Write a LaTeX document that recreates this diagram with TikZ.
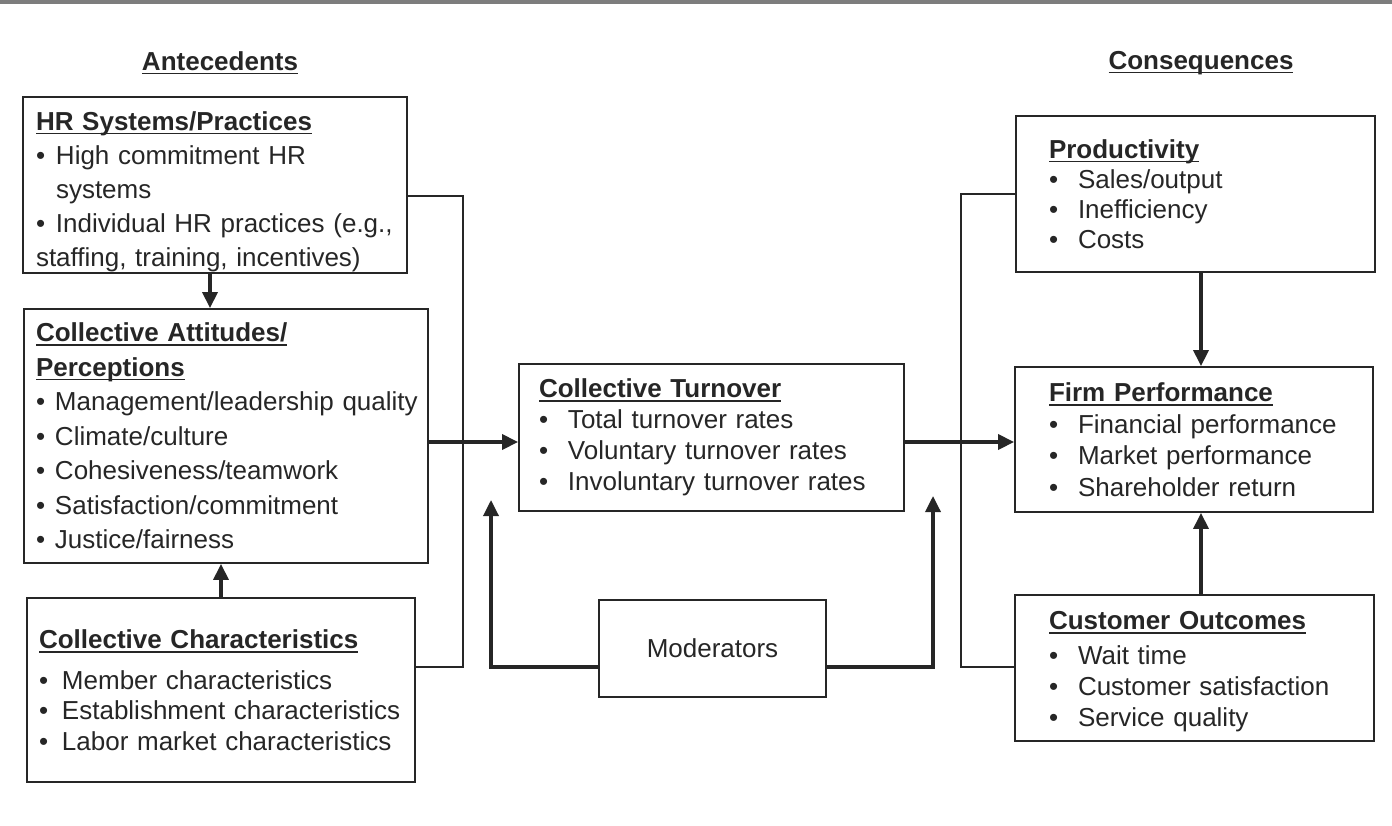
\documentclass[tikz,border=0pt]{standalone}
\usepackage{fontspec}
\setmainfont{Liberation Sans}
\usepackage{tikz}
\usetikzlibrary{arrows.meta, positioning, calc}
\definecolor{inkgray}{RGB}{38, 38, 38}
\definecolor{rulegray}{RGB}{125, 125, 125}
\newsavebox{\headbox}
\newcommand{\boxhead}[1]{\sbox{\headbox}{\textbf{#1}}%
    \mbox{\rlap{\rule[-4pt]{\wd\headbox}{1.6pt}}\usebox{\headbox}}}
\newcommand{\dotline}[2][19pt]{\mbox{\makebox[#1][l]{\textbullet}#2}}

\begin{document}
\begin{tikzpicture}[x=1pt, y=-1pt,
    panel/.style={draw=inkgray, line width=1.8pt, text=inkgray, align=left, inner ysep=0pt},
    arr/.style={draw=inkgray, line width=3.4pt, -{Triangle[length=16pt,width=15pt]}},
    link/.style={draw=inkgray, line width=1.8pt},
    heading/.style={text=inkgray, font=\fontsize{26}{31}\selectfont}]
    \useasboundingbox (0,0) rectangle (1392,825);

    % Rule at the top
    \draw[rulegray, line width=4pt] (0,1.5) -- (1392,1.5);

    % Column headings
    \node[heading] (anteh) at (220,63) {\boxhead{Antecedents}};
    \node[heading] (consh) at (1201,63) {\boxhead{Consequences}};

    % Antecedents
    \node[panel, minimum width=384pt, minimum height=176pt, inner xsep=13pt, text width=358pt,
          font=\fontsize{26}{34}\selectfont] (hr) at (215,185) {%
        \rule{0pt}{32pt}\boxhead{HR Systems/Practices}\\
        \dotline[20pt]{High commitment HR}\\
        \hspace*{20pt}systems\\
        \dotline[20pt]{Individual HR practices (e.g.,}\\
        staffing, training, incentives)};
    \node[panel, minimum width=404pt, minimum height=254pt, inner xsep=12pt, text width=380pt,
          font=\fontsize{26}{34.5}\selectfont] (ca) at (226,436) {%
        \boxhead{Collective Attitudes/}\\
        \boxhead{Perceptions}\\
        \dotline{Management/leadership quality}\\
        \dotline{Climate/culture}\\
        \dotline{Cohesiveness/teamwork}\\
        \dotline{Satisfaction/commitment}\\
        \dotline{Justice/fairness}};
    \node[panel, minimum width=388pt, minimum height=184pt, inner xsep=12pt, text width=364pt,
          font=\fontsize{26}{30.5}\selectfont] (cc) at (221,690) {%
        \boxhead{Collective Characteristics}\\[10pt]
        \dotline[23pt]{Member characteristics}\\
        \dotline[23pt]{Establishment characteristics}\\
        \dotline[23pt]{Labor market characteristics}};

    % Turnover and moderators
    \node[panel, minimum width=385pt, minimum height=147pt, inner xsep=20pt, text width=345pt,
          font=\fontsize{26}{31}\selectfont] (turn) at (711.5,437.5) {%
        \boxhead{Collective Turnover}\\
        \dotline[29pt]{Total turnover rates}\\
        \dotline[29pt]{Voluntary turnover rates}\\
        \dotline[29pt]{Involuntary turnover rates}};
    \node[panel, align=center, minimum width=227pt, minimum height=97pt,
          font=\fontsize{26}{31}\selectfont] (mod) at (712.5,648.5) {Moderators};

    % Consequences
    \node[panel, minimum width=359pt, minimum height=156pt, inner xsep=33pt, text width=293pt,
          font=\fontsize{26}{30}\selectfont] (prod) at (1195.5,194) {%
        \boxhead{Productivity}\\
        \dotline[29pt]{Sales/output}\\
        \dotline[29pt]{Inefficiency}\\
        \dotline[29pt]{Costs}};
    \node[panel, minimum width=358pt, minimum height=145pt, inner xsep=34pt, text width=290pt,
          font=\fontsize{26}{31.5}\selectfont] (firm) at (1194,439.5) {%
        \boxhead{Firm Performance}\\
        \dotline[29pt]{Financial performance}\\
        \dotline[29pt]{Market performance}\\
        \dotline[29pt]{Shareholder return}};
    \node[panel, minimum width=359pt, minimum height=146pt, inner xsep=34pt, text width=291pt,
          font=\fontsize{26}{31}\selectfont] (cust) at (1194.5,668) {%
        \rule{0pt}{26pt}\boxhead{Customer Outcomes}\\[4pt]
        \dotline[29pt]{Wait time}\\
        \dotline[29pt]{Customer satisfaction}\\
        \dotline[29pt]{Service quality}};

    % Side brackets
    \coordinate (lbtop) at (463,196);
    \coordinate (lbbot) at (463,667);
    \draw[link] (hr.east |- lbtop) -- (lbtop) -- (lbbot) -- (cc.east |- lbbot);
    \coordinate (rbtop) at (961,194);
    \coordinate (rbbot) at (961,667);
    \draw[link] (prod.west |- rbtop) -- (rbtop) -- (rbbot) -- (cust.west |- rbbot);

    % Main arrows
    \coordinate (mainrow) at (0,442);
    \draw[arr] ([xshift=-5pt]hr.south) -- ([xshift=-5pt]hr.south |- ca.north);
    \draw[arr] (cc.north) -- (cc.north |- ca.south);
    \draw[arr] (ca.east |- mainrow) -- (turn.west |- mainrow);
    \draw[arr] (turn.east |- mainrow) -- (firm.west |- mainrow);
    \draw[arr] ([xshift=5.5pt]prod.south) -- ([xshift=5.5pt]prod.south |- firm.north);
    \draw[arr] ([xshift=6.5pt]cust.north) -- ([xshift=6.5pt]cust.north |- firm.south);

    % Moderator arrows
    \coordinate (mlcorner) at (491,667);
    \coordinate (mltip) at (491,500);
    \coordinate (mrcorner) at (933,667);
    \coordinate (mrtip) at (933,496);
    \draw[arr] (mod.west |- mlcorner) -- (mlcorner) -- (mltip);
    \draw[arr] (mod.east |- mrcorner) -- (mrcorner) -- (mrtip);
\end{tikzpicture}
\end{document}
